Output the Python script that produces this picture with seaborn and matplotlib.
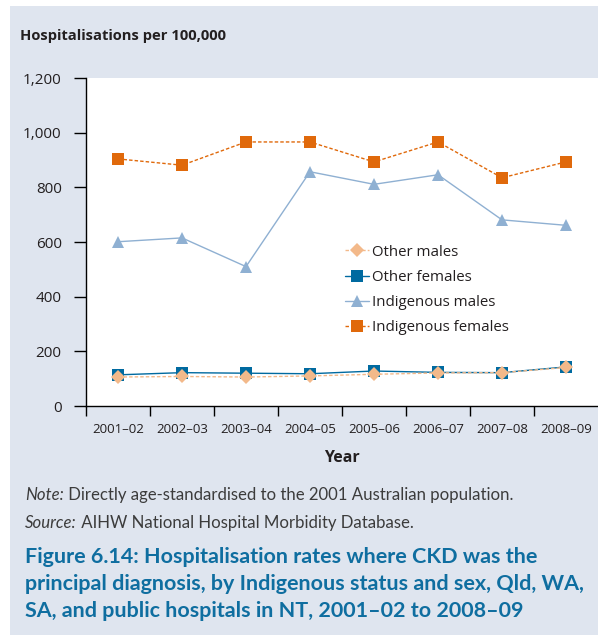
import matplotlib
matplotlib.use("Agg")
import matplotlib.pyplot as plt
import matplotlib.patches as mpatches
import numpy as np
import pandas as pd
import seaborn as sns

# data
years = ["2001\u201302", "2002\u201303", "2003\u201304", "2004\u201305",
         "2005\u201306", "2006\u201307", "2007\u201308", "2008\u201309"]
other_males = [106, 108, 106, 110, 116, 121, 122, 141]
other_females = [114, 122, 120, 118, 128, 123, 122, 143]
indig_males = [601, 615, 510, 857, 811, 846, 681, 661]
indig_females = [904, 881, 966, 966, 893, 966, 835, 893]

series = ["Other males", "Other females", "Indigenous males", "Indigenous females"]
yticks = [0, 200, 400, 600, 800, 1000, 1200]
ytick_labels = ["0", "200", "400", "600", "800", "1,000", "1,200"]

df = pd.DataFrame({
    "Year": years * 4,
    "Rate": other_males + other_females + indig_males + indig_females,
    "Series": np.repeat(series, len(years)),
})

panel = "#dfe5ef"
ink = "#231f20"
palette = {"Other males": "#f3b98a", "Other females": "#006aa0",
           "Indigenous males": "#8fb0d2", "Indigenous females": "#e0690b"}
markers = {"Other males": "D", "Other females": "s",
           "Indigenous males": "^", "Indigenous females": "s"}
dashes = {"Other males": (2.5, 1.5), "Other females": "",
          "Indigenous males": "", "Indigenous females": (2.5, 1.5)}
narrow = ["Open Sans", "DejaVu Sans"]
body = ["Lato", "DejaVu Sans"]

sns.set_theme(style="white")
plt.rcParams["font.family"] = narrow

fig = plt.figure(figsize=(5.98, 6.35), dpi=100)
fig.patches.append(mpatches.Rectangle((10 / 598, 0), 1, 1 - 6 / 635,
                                      transform=fig.transFigure,
                                      facecolor=panel, edgecolor="none", zorder=-10))
ax = fig.add_axes([86 / 598, 229 / 635, 512 / 598, 328 / 635])
ax.set_facecolor("white")

# draw indigenous first, others on top (other males uppermost)
draw_order = ["Indigenous females", "Indigenous males", "Other females", "Other males"]
sns.lineplot(data=df, x="Year", y="Rate", hue="Series", style="Series",
             hue_order=draw_order, style_order=draw_order,
             palette=palette, markers=markers, dashes=dashes,
             markersize=8.5, markeredgewidth=0, linewidth=1, sort=False, ax=ax)

for ln in ax.lines:
    if ln.get_marker() == "D":
        ln.set_markersize(7.5)

ax.set_xlim(-0.5, len(years) - 0.5)
ax.set_ylim(0, 1200)
ax.set_yticks(yticks)
ax.set_yticklabels(ytick_labels, fontsize=11)
ax.set_xticks(np.arange(len(years)) - 0.5)
ax.set_xticklabels([])
ax.set_xticks(np.arange(len(years)), minor=True)
ax.set_xticklabels(years, minor=True, fontsize=9.5)
ax.tick_params(axis="y", which="major", direction="out", length=8.5, width=1,
               color="black", left=True, pad=9, labelcolor=ink)
ax.tick_params(axis="x", which="major", direction="out", length=7.5, width=1,
               color="black", bottom=True)
ax.tick_params(axis="x", which="minor", length=0, pad=12, labelcolor=ink)
for side in ["top", "right"]:
    ax.spines[side].set_visible(False)
for side in ["left", "bottom"]:
    ax.spines[side].set_color("black")
    ax.spines[side].set_linewidth(1)
ax.set_xlabel("Year", fontsize=11.5, fontweight="bold", labelpad=10, color=ink)
ax.set_ylabel("")

handles, labels = ax.get_legend_handles_labels()
lookup = dict(zip(labels, handles))
ax.legend([lookup[s] for s in series], series, loc="upper left",
          bbox_to_anchor=(0.495, 0.51), frameon=False, fontsize=10.8,
          handlelength=1.6, handletextpad=0.2, labelspacing=0.68,
          borderaxespad=0, labelcolor=ink)

fig.text(20 / 598, 1 - 36 / 635, "Hospitalisations per 100,000", fontsize=10.6,
         fontweight="bold", va="center", ha="left", color=ink)

fig.canvas.draw()
r = fig.canvas.get_renderer()

grey = "#3c3c3c"
note_pieces = [(495, "Note:", " Directly age-standardised to the 2001 Australian population."),
               (523, "Source:", " AIHW National Hospital Morbidity Database.")]
note_texts = []
for ypix, lead, rest in note_pieces:
    t = fig.text(25 / 598, 1 - ypix / 635, lead, fontsize=10, style="italic",
                 family=body, va="center", color=grey)
    t2 = fig.text(0, 1 - ypix / 635, rest, fontsize=10, family=body, va="center", color=grey)
    note_texts.append((t, t2))
# size taken from the width of the Note line in the reference (488 px)
t, t2 = note_texts[0]
total = t.get_window_extent(renderer=r).width + t2.get_window_extent(renderer=r).width
size = 10 * 488 / total
for t, t2 in note_texts:
    t.set_fontsize(size)
    t2.set_fontsize(size)
    t2.set_x(t.get_window_extent(renderer=r).x1 / fig.bbox.width)

title_lines = ["Figure 6.14: Hospitalisation rates where CKD was the",
               "principal diagnosis, by Indigenous status and sex, Qld, WA,",
               "SA, and public hospitals in NT, 2001\u201302 to 2008\u201309"]
title_texts = []
for i, line in enumerate(title_lines):
    title_texts.append(fig.text(25 / 598, 1 - (557 + 27 * i) / 635, line, fontsize=12,
                                fontweight="bold", family=body, va="center",
                                color="#0f6ea0"))
w = title_texts[1].get_window_extent(renderer=r).width
for t in title_texts:
    t.set_fontsize(12 * 555 / w)

fig.savefig("out.png", dpi=100)
